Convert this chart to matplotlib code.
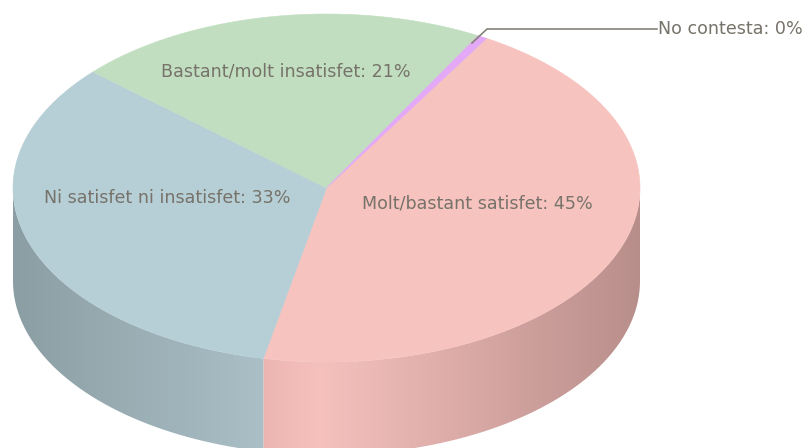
import numpy as np
import matplotlib
matplotlib.use('Agg')
import matplotlib.pyplot as plt
from matplotlib.colors import LinearSegmentedColormap
from matplotlib.patches import Polygon

# slices, clockwise from the top right
names = ['Molt/bastant satisfet', 'Ni satisfet ni insatisfet',
         'Bastant/molt insatisfet', 'No contesta']
values = [44.7, 33.4, 21.4, 0.5]
top_colors = ['#f7c3bf', '#b6ced6', '#c1dfc0', '#e3a9f7']

CX, CY, RX, RY = 326.5, 188, 313.5, 174
DEPTH = 93
START = 30.7
TEXT_COLOR = '#77736a'
FONT_SIZE = 12.65


def rim(a0, a1, n=200):
    t = np.radians(np.linspace(a0, a1, n))
    return CX + RX * np.sin(t), CY - RY * np.cos(t)


fig = plt.figure(figsize=(8.04, 4.48), dpi=100)
ax = fig.add_axes([0, 0, 1, 1])
ax.axis('off')

edges = START + np.concatenate([[0], np.cumsum(values)]) / sum(values) * 360

# side walls, only for the part of the rim facing us
side_maps = {
    0: LinearSegmentedColormap.from_list('pink', [(0, '#ecb5b2'), (0.15, '#f6c1bd'), (1, '#b88e8b')]),
    1: LinearSegmentedColormap.from_list('blue', ['#aabfc6', '#8b9ea4']),
}
for i, cmap in side_maps.items():
    a0, a1 = max(edges[i], 90), min(edges[i + 1], 270)
    x, y = rim(a0, a1)
    pts = np.vstack([np.column_stack([x, y]),
                     np.column_stack([x[::-1], y[::-1] + DEPTH])])
    x0, x1 = x.min(), x.max()
    grad = np.linspace(0, 1, 256).reshape(1, -1)
    if i == 1:
        grad = grad[:, ::-1]
    im = ax.imshow(grad, cmap=cmap, extent=(x0, x1, y.max() + DEPTH, y.min()),
                   aspect='auto', zorder=1, interpolation='bilinear')
    clip = Polygon(pts, closed=True, transform=ax.transData)
    im.set_clip_path(clip)

# top face
for i, c in enumerate(top_colors):
    x, y = rim(edges[i], edges[i + 1])
    pts = np.vstack([[CX, CY], np.column_stack([x, y])])
    ax.add_patch(Polygon(pts, closed=True, facecolor=c, edgecolor=c,
                         linewidth=0.4, zorder=2))

ax.set_xlim(0, 804)
ax.set_ylim(448, 0)

label_pos = [(477.5, 204), (167, 198), (285.5, 71)]
for name, v, (tx, ty) in zip(names, values, label_pos):
    ax.text(tx, ty, f'{name}: {round(v)}%', ha='center', va='center',
            fontsize=FONT_SIZE, color=TEXT_COLOR, zorder=4,
            family='DejaVu Sans')

# leader line for the tiny slice
ax.plot([472, 487, 657], [43, 29, 29], color='#85837a', linewidth=1.2, zorder=3)
ax.text(658, 29, f'{names[3]}: {round(values[3])}%', ha='left', va='center',
        fontsize=FONT_SIZE, color=TEXT_COLOR, zorder=4, family='DejaVu Sans')

fig.savefig('out.png', dpi=100)
